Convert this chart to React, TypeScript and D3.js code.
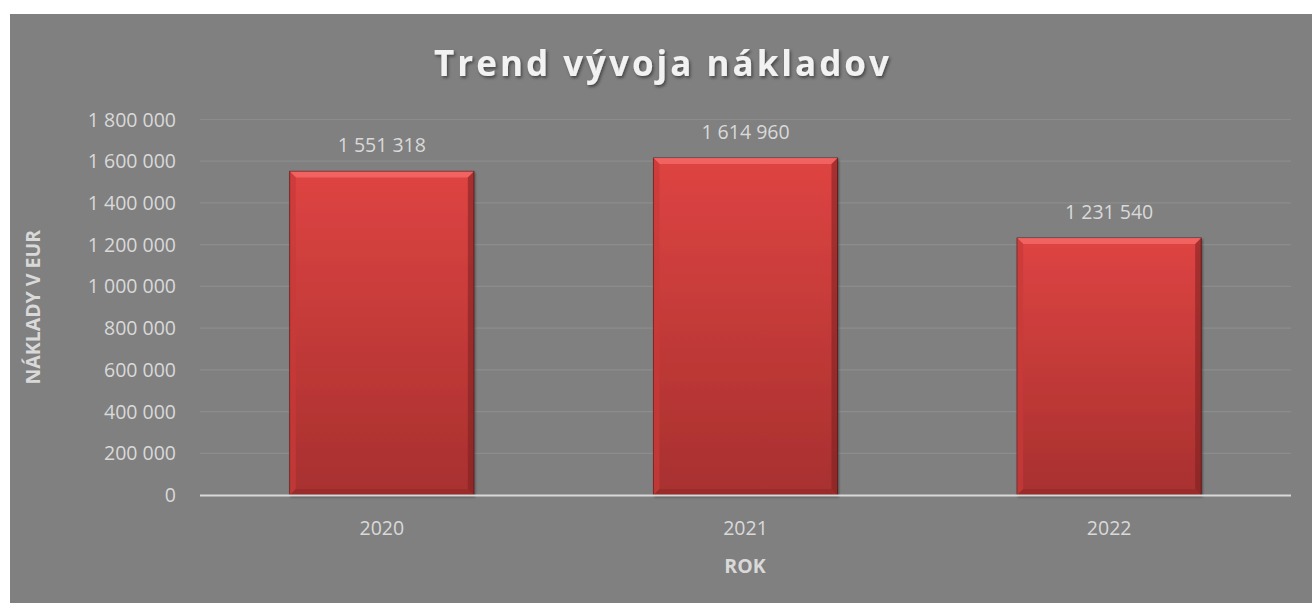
import React from "react";
import * as d3 from "d3";

// values
const years = ["2020", "2021", "2022"];
const costs = [1551318, 1614960, 1231540];
const yTicks = [0, 200000, 400000, 600000, 800000, 1000000, 1200000, 1400000, 1600000, 1800000];

const W = 1312, H = 603;
const margin = { left: 200, right: 21, top: 119.5, bottom: 108 };
const font = "'Open Sans', 'Liberation Sans', sans-serif";
const fs = 19.5;

// "1 551 318" style
const fmt = (v: number) => d3.format(",")(v).replace(/,/g, " ");

export default function App() {
  const x = d3.scaleBand().domain(years).range([margin.left, W - margin.right]).paddingInner(0.494).paddingOuter(0.247);
  const y = d3.scaleLinear().domain([0, 1800000]).range([H - margin.bottom, margin.top]);
  const bev = 6;

  return (
    <svg width={W} height={H} style={{ position: "absolute", left: 0, top: 0 }}>
      <defs>
        <linearGradient id="barFill" x1="0" y1="0" x2="0" y2="1">
          <stop offset="0" stopColor="#de4442" />
          <stop offset="1" stopColor="#a8302f" />
        </linearGradient>
        <filter id="tshadow" x="-10%" y="-30%" width="120%" height="160%">
          <feDropShadow dx="1.5" dy="2" stdDeviation="1.5" floodColor="#000" floodOpacity="0.45" />
        </filter>
        <filter id="bshadow" x="-10%" y="-10%" width="120%" height="120%">
          <feDropShadow dx="1" dy="1.5" stdDeviation="1.2" floodColor="#000" floodOpacity="0.4" />
        </filter>
      </defs>
      <rect x={0} y={0} width={W} height={H} fill="#fff" />
      <rect x={10} y={14} width={W - 10} height={H - 14} fill="#808080" />

      {/* title */}
      <text x={663} y={76} textAnchor="middle" fontFamily={font} fontWeight="bold" fontSize={35}
        letterSpacing={3} fill="#f2f2f2" filter="url(#tshadow)">Trend vývoja nákladov</text>

      {/* gridlines + y labels */}
      {yTicks.map((t) => (
        <g key={t}>
          {t > 0 && <line x1={margin.left} x2={W - margin.right} y1={y(t)} y2={y(t)} stroke="#8c8c8c" strokeWidth={1.2} />}
          <text x={176} y={y(t)} dy="0.36em" textAnchor="end" fontFamily={font} fontSize={fs} fill="#d9d9d9">{fmt(t)}</text>
        </g>
      ))}

      {/* bars */}
      {costs.map((v, i) => {
        const x0 = x(years[i])!, w = x.bandwidth(), y0 = y(v), y1 = y(0), x1 = x0 + w;
        return (
          <g key={years[i]}>
            <rect x={x0} y={y0} width={w} height={y1 - y0} fill="url(#barFill)" stroke="#5e1b1b" strokeWidth={1} filter="url(#bshadow)" />
            <polygon points={`${x0},${y0} ${x1},${y0} ${x1 - bev},${y0 + bev} ${x0 + bev},${y0 + bev}`} fill="#f26664" opacity={0.9} />
            <polygon points={`${x0},${y0} ${x0 + bev},${y0 + bev} ${x0 + bev},${y1 - bev} ${x0},${y1}`} fill="#c83a39" opacity={0.7} />
            <polygon points={`${x1},${y0} ${x1 - bev},${y0 + bev} ${x1 - bev},${y1 - bev} ${x1},${y1}`} fill="#7a2020" opacity={0.55} />
            <polygon points={`${x0},${y1} ${x0 + bev},${y1 - bev} ${x1 - bev},${y1 - bev} ${x1},${y1}`} fill="#8a2526" opacity={0.5} />
            <text x={x0 + w / 2} y={y0 - 19} textAnchor="middle" fontFamily={font} fontSize={fs} fill="#d9d9d9">{fmt(v)}</text>
          </g>
        );
      })}

      {/* x axis */}
      <line x1={margin.left} x2={W - margin.right} y1={y(0) + 0.5} y2={y(0) + 0.5} stroke="#d9d9d9" strokeWidth={2} />
      {years.map((yr) => (
        <text key={yr} x={x(yr)! + x.bandwidth() / 2} y={535} textAnchor="middle" fontFamily={font} fontSize={fs} fill="#d9d9d9">{yr}</text>
      ))}

      {/* axis titles */}
      <text x={745} y={573} textAnchor="middle" fontFamily={font} fontWeight="bold" fontSize={19.5} fill="#d9d9d9">ROK</text>
      <text transform={`translate(40, ${(y(0) + y(1800000)) / 2}) rotate(-90)`} textAnchor="middle" fontFamily={font}
        fontWeight="bold" fontSize={19.5} fill="#d9d9d9">NÁKLADY V EUR</text>
    </svg>
  );
}
